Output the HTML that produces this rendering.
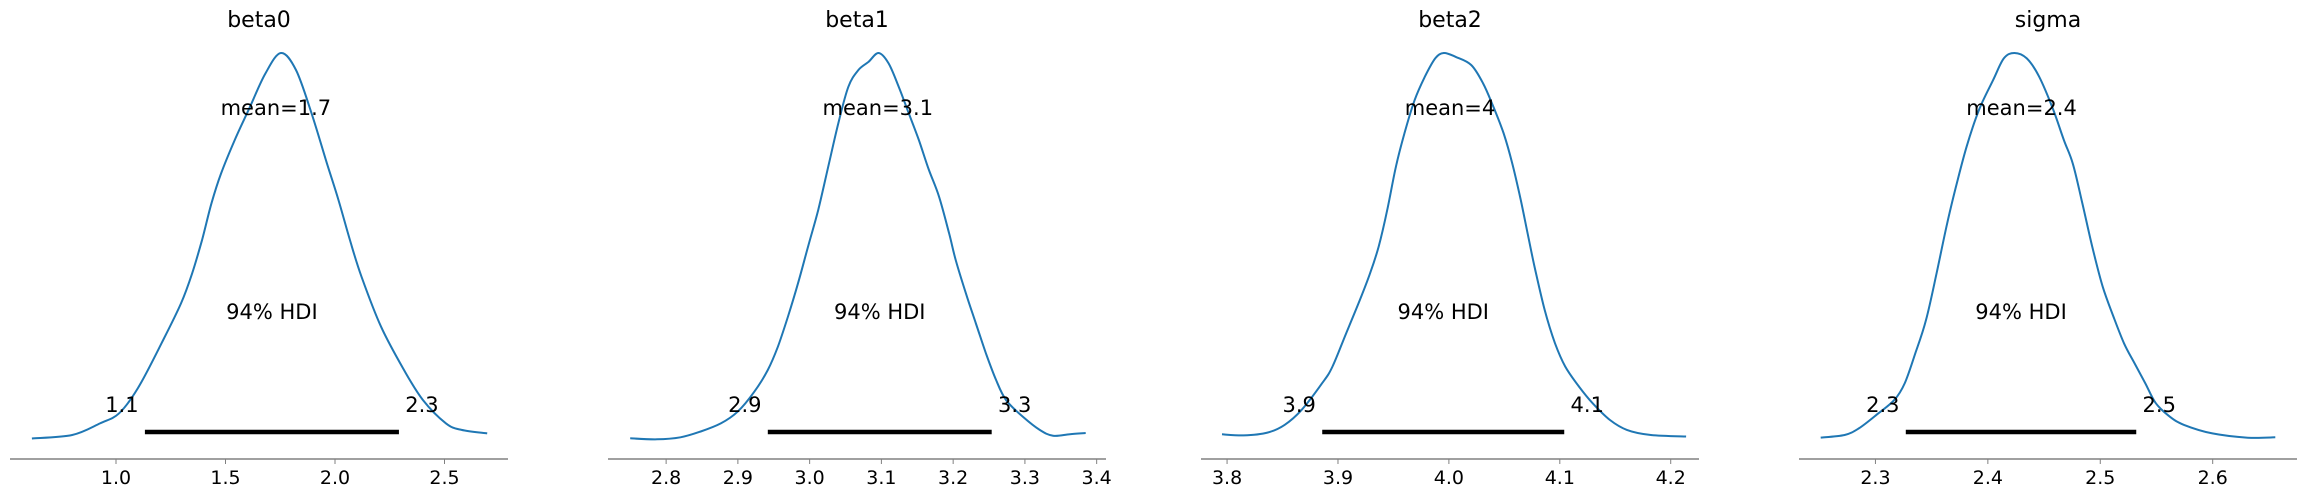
<!DOCTYPE html>
<html><head><meta charset="utf-8"><style>
html,body{margin:0;padding:0;background:#fff;}
svg{display:block;font-family:"DejaVu Sans","Liberation Sans",sans-serif;}
</style></head><body>
<svg id="chart" width="2301" height="497" viewBox="0 0 2301 497" xmlns="http://www.w3.org/2000/svg"></svg>
<script>
const titles = ["beta0","beta1","beta2","sigma"];
const meanLabels = ["mean=1.7","mean=3.1","mean=4","mean=2.4"];
const meanValues = [1.73,3.095,4.001,2.43];
const hdiLow = [1.132,2.9417,3.8858,2.327];
const hdiHigh = [2.292,3.2537,4.104,2.532];
const hdiLowLabels = ["1.1","2.9","3.9","2.3"];
const hdiHighLabels = ["2.3","3.3","4.1","2.5"];
const xDomains = [[0.516,2.79],[2.719,3.413],[3.7765,4.2255],[2.232,2.675]];
const ticks0 = [1.0,1.5,2.0,2.5];
const ticks1 = [2.8,2.9,3.0,3.1,3.2,3.3,3.4];
const ticks2 = [3.8,3.9,4.0,4.1,4.2];
const ticks3 = [2.3,2.4,2.5,2.6];
const tickLabels0 = ["1.0","1.5","2.0","2.5"];
const tickLabels1 = ["2.8","2.9","3.0","3.1","3.2","3.3","3.4"];
const tickLabels2 = ["3.8","3.9","4.0","4.1","4.2"];
const tickLabels3 = ["2.3","2.4","2.5","2.6"];
const kdeX0 = [0.616,0.80,0.927,1.014,1.10,1.208,1.297,1.348,1.393,1.436,1.48,1.542,1.612,1.682,1.753,1.822,1.893,1.963,2.016,2.068,2.121,2.21,2.315,2.402,2.507,2.578,2.695];
const kdeY0 = [0.004,0.013,0.043,0.069,0.134,0.25,0.353,0.431,0.517,0.612,0.689,0.775,0.861,0.947,1.0,0.956,0.844,0.715,0.62,0.517,0.422,0.293,0.181,0.103,0.043,0.026,0.017];
const kdeX1 = [2.75,2.7874,2.8201,2.8482,2.8762,2.8996,2.923,2.9417,2.9557,2.9698,2.9838,2.9978,3.0119,3.0259,3.0399,3.054,3.068,3.082,3.0961,3.1101,3.1241,3.1382,3.1522,3.1662,3.1803,3.1943,3.2036,3.2177,3.2317,3.2457,3.2598,3.2738,3.2972,3.3206,3.3393,3.3627,3.3847];
const kdeY1 = [0.0043,0.0017,0.007,0.022,0.043,0.073,0.125,0.181,0.241,0.319,0.405,0.5,0.594,0.706,0.818,0.913,0.956,0.977,1.0,0.973,0.913,0.844,0.775,0.698,0.629,0.534,0.465,0.379,0.301,0.224,0.155,0.103,0.060,0.026,0.011,0.015,0.018];
const kdeX2 = [3.7954,3.8148,3.8364,3.8519,3.8673,3.8858,3.8951,3.9074,3.9198,3.929,3.9367,3.9444,3.9522,3.9599,3.9691,3.9784,3.9877,3.9954,4.0062,4.0201,4.0309,4.0401,4.0494,4.0571,4.0648,4.071,4.0772,4.0864,4.0957,4.1049,4.1173,4.1296,4.1451,4.1605,4.1821,4.2139];
const kdeY2 = [0.0146,0.012,0.019,0.039,0.078,0.147,0.19,0.276,0.362,0.431,0.5,0.594,0.706,0.792,0.878,0.939,0.986,1.0,0.99,0.969,0.921,0.861,0.792,0.715,0.62,0.534,0.448,0.336,0.25,0.19,0.138,0.095,0.052,0.026,0.013,0.009];
const kdeX3 = [2.2513,2.2726,2.2852,2.3009,2.3167,2.3261,2.3355,2.345,2.3544,2.3638,2.3717,2.3811,2.3921,2.4047,2.4142,2.4236,2.4346,2.4456,2.4582,2.4676,2.4755,2.4834,2.4928,2.5022,2.5117,2.5211,2.5305,2.54,2.5494,2.562,2.5745,2.5997,2.6312,2.6557];
const kdeY3 = [0.0062,0.013,0.030,0.065,0.103,0.147,0.224,0.31,0.431,0.56,0.655,0.758,0.853,0.930,0.986,1.0,0.986,0.939,0.853,0.775,0.715,0.62,0.5,0.396,0.319,0.25,0.198,0.147,0.095,0.060,0.039,0.017,0.006,0.007];

const svg = document.getElementById('chart');
const NS = "http://www.w3.org/2000/svg";
const axLeft = [10,608,1201,1799];
const axWidth = 498;
const axisY = 459;
const y0 = 440, yTop = 53;
function yScale(d){ return y0 - d*(y0-yTop); }
function mk(tag, attrs, parent){ const e=document.createElementNS(NS,tag); for(const k in attrs) e.setAttribute(k,attrs[k]); (parent||svg).appendChild(e); return e; }
function smoothPath(p){
  let d='M'+p[0][0].toFixed(1)+','+p[0][1].toFixed(1);
  for(let i=0;i<p.length-1;i++){
    const a=p[i-1]||p[i], b=p[i], c=p[i+1], e=p[i+2]||c;
    const c1x=b[0]+(c[0]-a[0])/6, c1y=b[1]+(c[1]-a[1])/6;
    const c2x=c[0]-(e[0]-b[0])/6, c2y=c[1]-(e[1]-b[1])/6;
    d+=' C'+c1x.toFixed(1)+','+c1y.toFixed(1)+' '+c2x.toFixed(1)+','+c2y.toFixed(1)+' '+c[0].toFixed(1)+','+c[1].toFixed(1);
  }
  return d;
}

const allTicks=[ticks0,ticks1,ticks2,ticks3];
const allTickLabels=[tickLabels0,tickLabels1,tickLabels2,tickLabels3];
const allX=[kdeX0,kdeX1,kdeX2,kdeX3];
const allY=[kdeY0,kdeY1,kdeY2,kdeY3];

for(let i=0;i<4;i++){
  const [d0,d1]=xDomains[i];
  const L=axLeft[i];
  const xs=v=>L+(v-d0)/(d1-d0)*axWidth;
  const g=mk('g',{});
  
  
  const t=mk('text',{x:L+axWidth/2,y:27,'text-anchor':'middle','font-size':22,fill:'#000'},g);
  t.textContent=titles[i];
  
  
  const ax=mk('line',{x1:L,x2:L+axWidth,y1:axisY,y2:axisY,stroke:'#808080','stroke-width':1.5},g);
  
  
  allTicks[i].forEach((v,j)=>{
    const x=xs(v);
    const tk=mk('line',{x1:x,x2:x,y1:axisY,y2:axisY+5,stroke:'#808080','stroke-width':1},g);
    
    
    const tl=mk('text',{x:x,y:484,'text-anchor':'middle','font-size':19,fill:'#000'},g);
    tl.textContent=allTickLabels[i][j];
    
    
  });
  const pts=allX[i].map((v,j)=>[xs(v),yScale(allY[i][j])]);
  const pl=mk('path',{d:smoothPath(pts),fill:'none',stroke:'#1f77b4','stroke-width':2,'stroke-linejoin':'round'},g);
  
  
  const hb=mk('line',{x1:xs(hdiLow[i]),x2:xs(hdiHigh[i]),y1:432,y2:432,stroke:'#000','stroke-width':4.5},g);
  
  
  const hl=mk('text',{x:xs(hdiLow[i])-23,y:412,'text-anchor':'middle','font-size':21,fill:'#000'},g);
  hl.textContent=hdiLowLabels[i];
  
  
  const hh=mk('text',{x:xs(hdiHigh[i])+23,y:412,'text-anchor':'middle','font-size':21,fill:'#000'},g);
  hh.textContent=hdiHighLabels[i];
  
  
  const ht=mk('text',{x:(xs(hdiLow[i])+xs(hdiHigh[i]))/2,y:319,'text-anchor':'middle','font-size':21,fill:'#000'},g);
  ht.textContent="94% HDI";
  
  
  const mt=mk('text',{x:xs(meanValues[i]),y:115,'text-anchor':'middle','font-size':21,fill:'#000'},g);
  mt.textContent=meanLabels[i];
  
  
}
</script>
</body></html>
